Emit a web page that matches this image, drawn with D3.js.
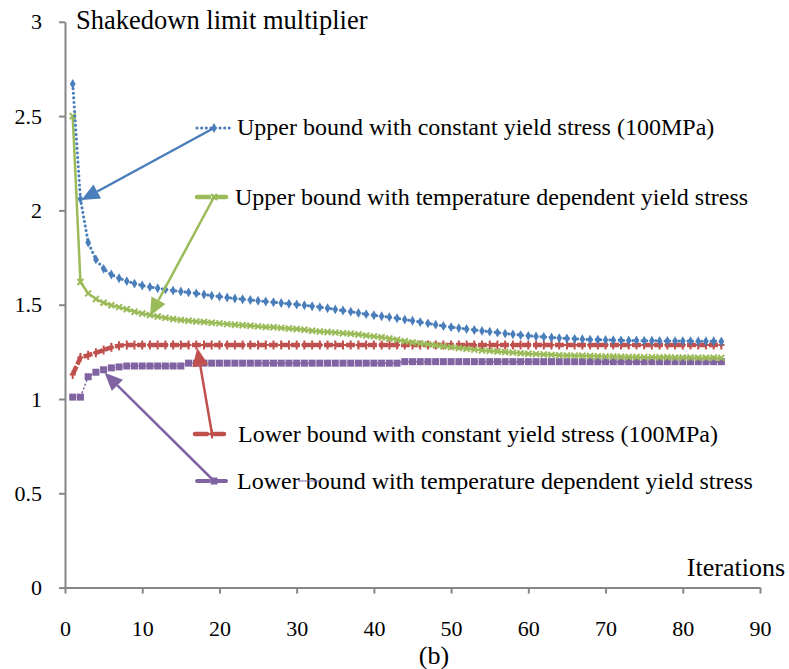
<!DOCTYPE html>
<html>
<head>
<meta charset="utf-8">
<script src="https://cdn.jsdelivr.net/npm/d3@7"></script>
<style>
  html, body { margin: 0; padding: 0; background: #fff; }
  svg { display: block; }
  text { font-family: "Liberation Serif", "Times New Roman", serif; fill: #000; }
</style>
</head>
<body>
<svg id="chart" width="789" height="669"></svg>
<script>
// Iteration numbers (x categories)
const iterations = d3.range(1, 86);

// Upper bound, constant yield stress (100MPa)
const upperConst = [
  2.67, 2.06, 1.83, 1.74, 1.69, 1.66, 1.64, 1.625, 1.612, 1.602,
  1.594, 1.587, 1.581, 1.575, 1.57, 1.565, 1.56, 1.554, 1.548, 1.543,
  1.538, 1.533, 1.529, 1.525, 1.521, 1.517, 1.513, 1.509, 1.505, 1.501,
  1.497, 1.492, 1.487, 1.481, 1.475, 1.469, 1.463, 1.456, 1.45, 1.444,
  1.439, 1.434, 1.428, 1.421, 1.415, 1.408, 1.401, 1.394, 1.387, 1.381,
  1.376, 1.371, 1.366, 1.361, 1.357, 1.352, 1.347, 1.343, 1.339, 1.335,
  1.332, 1.329, 1.326, 1.323, 1.321, 1.319, 1.317, 1.315, 1.314, 1.313,
  1.312, 1.311, 1.31, 1.31, 1.309, 1.309, 1.308, 1.308, 1.307, 1.307,
  1.307, 1.306, 1.306, 1.306, 1.305
];

// Upper bound, temperature dependent yield stress
const upperTemp = [
  2.50, 1.62, 1.56, 1.53, 1.51, 1.497, 1.487, 1.476, 1.463, 1.453,
  1.445, 1.437, 1.43, 1.424, 1.419, 1.415, 1.411, 1.408, 1.404, 1.401,
  1.397, 1.394, 1.391, 1.388, 1.385, 1.382, 1.38, 1.377, 1.374, 1.371,
  1.367, 1.362, 1.358, 1.355, 1.352, 1.349, 1.346, 1.342, 1.337, 1.332,
  1.327, 1.321, 1.314, 1.306, 1.3, 1.295, 1.29, 1.285, 1.28, 1.275,
  1.27, 1.266, 1.262, 1.258, 1.255, 1.252, 1.249, 1.246, 1.243, 1.24,
  1.238, 1.236, 1.234, 1.232, 1.231, 1.23, 1.229, 1.228, 1.227, 1.226,
  1.225, 1.224, 1.223, 1.223, 1.222, 1.222, 1.221, 1.221, 1.22, 1.22,
  1.22, 1.219, 1.219, 1.219, 1.218
];

// Lower bound, constant yield stress (100MPa)
const lowerConst = [
  1.13, 1.22, 1.232, 1.245, 1.26, 1.274, 1.283, 1.286, 1.286, 1.286,
  1.286, 1.286, 1.286, 1.286, 1.286, 1.286, 1.286, 1.286, 1.286, 1.286,
  1.286, 1.286, 1.286, 1.286, 1.286, 1.286, 1.286, 1.286, 1.286, 1.286,
  1.286, 1.286, 1.286, 1.286, 1.286, 1.286, 1.286, 1.286, 1.286, 1.286,
  1.286, 1.286, 1.286, 1.286, 1.286, 1.286, 1.286, 1.286, 1.286, 1.286,
  1.286, 1.286, 1.286, 1.286, 1.286, 1.286, 1.286, 1.286, 1.286, 1.286,
  1.286, 1.286, 1.286, 1.286, 1.286, 1.286, 1.286, 1.286, 1.286, 1.286,
  1.286, 1.286, 1.286, 1.286, 1.286, 1.286, 1.286, 1.286, 1.286, 1.286,
  1.286, 1.286, 1.286, 1.286, 1.286
];

// Lower bound, temperature dependent yield stress
const lowerTemp = [
  1.01, 1.01, 1.118, 1.142, 1.155, 1.165, 1.17, 1.175, 1.175, 1.175,
  1.175, 1.175, 1.175, 1.175, 1.175, 1.19, 1.19, 1.19, 1.19, 1.19,
  1.19, 1.19, 1.19, 1.19, 1.19, 1.19, 1.19, 1.19, 1.19, 1.19,
  1.19, 1.19, 1.19, 1.19, 1.19, 1.19, 1.19, 1.19, 1.19, 1.19,
  1.19, 1.19, 1.19, 1.198, 1.198, 1.198, 1.198, 1.198, 1.198, 1.198,
  1.198, 1.198, 1.198, 1.198, 1.198, 1.198, 1.198, 1.198, 1.198, 1.198,
  1.198, 1.198, 1.198, 1.198, 1.198, 1.198, 1.198, 1.198, 1.198, 1.198,
  1.198, 1.198, 1.198, 1.198, 1.198, 1.198, 1.198, 1.198, 1.198, 1.198,
  1.198, 1.198, 1.198, 1.198, 1.198
];

// Axis ticks
const xTicks = [0, 10, 20, 30, 40, 50, 60, 70, 80, 90];
const yTicks = [0, 0.5, 1, 1.5, 2, 2.5, 3];

// Legend labels and the iteration each leader arrow points at
const seriesNames = [
  "Upper bound with constant yield stress (100MPa)",
  "Upper bound with temperature dependent yield stress",
  "Lower bound with constant yield stress (100MPa)",
  "Lower bound with temperature dependent yield stress"
];
const pointerIter = [2, 11, 17, 5];

const svg = d3.select("#chart");
const x = d3.scaleLinear().domain([0, 90]).range([65, 760]);
const y = d3.scaleLinear().domain([0, 3]).range([587.6, 21.8]);
const axisColor = "#868686";

// ---- axes ----
const yAxis = svg.append("g")
  .attr("transform", "translate(65,0)")
  .call(d3.axisLeft(y).tickValues(yTicks).tickFormat(d3.format("")).tickSize(6).tickSizeOuter(0).tickPadding(17));
const xAxis = svg.append("g")
  .attr("transform", `translate(0,${y(0)})`)
  .call(d3.axisBottom(x).tickValues(xTicks).tickFormat(d3.format("d")).tickSize(6).tickSizeOuter(0).tickPadding(27));
[yAxis, xAxis].forEach(g => {
  g.select(".domain").attr("stroke", axisColor).attr("stroke-width", 2);
  g.selectAll(".tick line").attr("stroke", axisColor).attr("stroke-width", 2);
  g.selectAll(".tick text").style("font-family", '"Liberation Serif", "Times New Roman", serif')
    .style("font-size", "22px").attr("fill", "#000");
});

// ---- series ----
const series = [
  { values: upperConst, color: "#4A7EBB", kind: "diamond" },
  { values: upperTemp,  color: "#9BBB59", kind: "x" },
  { values: lowerConst, color: "#C0504D", kind: "plus" },
  { values: lowerTemp,  color: "#8064A2", kind: "square" }
];

const lineGen = vals => d3.line()
  .x((d, i) => x(iterations[i]))
  .y(d => y(d))(vals);

function lineStyle(sel, kind, color) {
  sel.attr("fill", "none").attr("stroke", color);
  if (kind === "diamond") sel.attr("stroke-width", 3).attr("stroke-dasharray", "0.1,4.5").attr("stroke-linecap", "round");
  if (kind === "x") sel.attr("stroke-width", 2.5);
  if (kind === "plus") sel.attr("stroke-width", 4.5).attr("stroke-dasharray", "9,2");
  if (kind === "square") sel.attr("stroke-width", 1.5).attr("stroke-dasharray", "2,2");
}

function drawMarker(g, kind, color, cx, cy) {
  if (kind === "diamond") {
    g.append("path").attr("d", d3.symbol(d3.symbolDiamond, 28)())
      .attr("transform", `translate(${cx},${cy})`).attr("fill", color);
  } else if (kind === "x") {
    g.append("path").attr("d", "M-3,-3L3,3M-3,3L3,-3")
      .attr("transform", `translate(${cx},${cy})`).attr("stroke", color).attr("stroke-width", 2).attr("fill", "none");
  } else if (kind === "plus") {
    g.append("path").attr("d", "M0,-4.5L0,4.5M-3,0L3,0")
      .attr("transform", `translate(${cx},${cy})`).attr("stroke", color).attr("stroke-width", 2).attr("fill", "none");
  } else {
    g.append("rect").attr("x", cx - 3.5).attr("y", cy - 3.5).attr("width", 7).attr("height", 7).attr("fill", color);
  }
}

// Draw lower-bound series first so upper curves sit above them
[3, 2, 1, 0].forEach(k => {
  const s = series[k];
  const g = svg.append("g");
  g.append("path").attr("d", lineGen(s.values)).call(lineStyle, s.kind, s.color);
  s.values.forEach((v, i) => drawMarker(g, s.kind, s.color, x(iterations[i]), y(v)));
});

// ---- legend entries with leader arrows ----
const legendPos = [
  { lx: 197, ly: 128, tx: 237, ty: 135 },
  { lx: 197, ly: 197, tx: 235, ty: 205 },
  { lx: 195, ly: 434, tx: 238, ty: 442 },
  { lx: 197, ly: 481, tx: 237, ty: 489 }
];

function arrow(g, color, x1, y1, x2, y2) {
  const ang = Math.atan2(y2 - y1, x2 - x1);
  const len = 18, hw = 8;
  const bx = x2 - len * Math.cos(ang), by = y2 - len * Math.sin(ang);
  g.append("line").attr("x1", x1).attr("y1", y1).attr("x2", bx).attr("y2", by)
    .attr("stroke", color).attr("stroke-width", 2.5);
  const px = -Math.sin(ang) * hw, py = Math.cos(ang) * hw;
  g.append("path")
    .attr("d", `M${x2},${y2}L${bx + px},${by + py}L${bx - px},${by - py}Z`)
    .attr("fill", color);
}

series.forEach((s, k) => {
  const p = legendPos[k];
  const g = svg.append("g");
  const l = g.append("line").attr("x1", p.lx).attr("y1", p.ly).attr("x2", p.lx + 34).attr("y2", p.ly);
  if (s.kind === "diamond") l.call(lineStyle, s.kind, s.color);
  else l.attr("stroke", s.color).attr("stroke-width", s.kind === "square" ? 4 : 4.5).attr("stroke-dasharray", "12,5").attr("stroke-linecap", "round");
  drawMarker(g, s.kind, s.color, p.lx + 17, p.ly);
  g.append("text").attr("x", p.tx).attr("y", p.ty).style("font-size", "24px").text(seriesNames[k]);
  // leader arrow from the legend marker to the curve
  const it = pointerIter[k];
  const tx = x(it), ty = y(s.values[it - 1]);
  const off = k >= 2 ? 3 : 1;
  arrow(g, s.color, p.lx + 17, p.ly, tx + (k === 1 ? 0 : 1), ty + off);
});

// stray leader stroke through the last legend label
svg.append("line").attr("x1", 298).attr("y1", 481).attr("x2", 320).attr("y2", 481)
  .attr("stroke", "#8064A2").attr("stroke-width", 1);

// ---- titles ----
svg.append("text").attr("x", 76).attr("y", 29).style("font-size", "26.5px").text("Shakedown limit multiplier");
svg.append("text").attr("x", 785).attr("y", 576).attr("text-anchor", "end").style("font-size", "26px").text("Iterations");
svg.append("text").attr("x", 434).attr("y", 664).attr("text-anchor", "middle").style("font-size", "26px").text("(b)");
</script>
</body>
</html>
